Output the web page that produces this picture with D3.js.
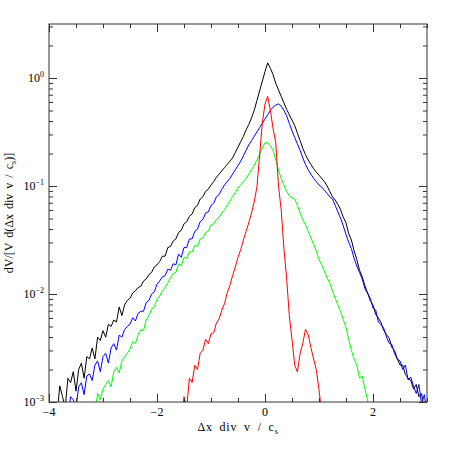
<!DOCTYPE html>
<html><head><meta charset="utf-8">
<script src="https://cdn.jsdelivr.net/npm/d3@7"></script>
<style>html,body{margin:0;padding:0;background:#fff;} svg{display:block;}</style>
</head><body>
<svg id="chart" width="450" height="450"></svg>
<script>
// ---- data (histogram bins, bin width 0.05) ----
const binStep = 0.05;
const seriesNames = ["black", "blue", "green", "red"];
const seriesColors = ["#000000", "#0000ff", "#00ff00", "#ff0000"];
const seriesStarts = [-3.85, -3.65, -3.15, -1.55];

const blackValues = [
  7.9e-4,1.41e-3,1.12e-3,8.9e-4,1.66e-3,1.51e-3,1.91e-3,1.26e-3,2.00e-3,2.29e-3,
  1.66e-3,2.63e-3,2.51e-3,3.16e-3,2.51e-3,3.98e-3,3.72e-3,4.57e-3,3.98e-3,5.25e-3,
  5.01e-3,5.75e-3,5.50e-3,7.59e-3,6.31e-3,7.94e-3,8.71e-3,9.12e-3,1.023e-2,1.072e-2,
  1.148e-2,1.175e-2,1.318e-2,1.380e-2,1.514e-2,1.585e-2,1.778e-2,1.862e-2,1.995e-2,2.239e-2,
  2.239e-2,2.692e-2,2.754e-2,3.090e-2,3.236e-2,3.715e-2,3.890e-2,4.467e-2,4.677e-2,5.248e-2,
  5.495e-2,6.310e-2,6.607e-2,7.586e-2,7.943e-2,8.913e-2,9.333e-2,0.1023,0.1096,0.1202,
  0.1288,0.1380,0.1479,0.1585,0.1698,0.1820,0.2042,0.2291,0.2570,0.2884,
  0.3311,0.3715,0.4266,0.5012,0.6166,0.7586,0.9333,1.148,1.380,1.230,
  1.072,0.8913,0.7762,0.6761,0.5888,0.5129,0.4571,0.4074,0.3631,0.3090,
  0.2630,0.2239,0.1950,0.1738,0.1585,0.1445,0.1349,0.1259,0.1175,0.1096,
  0.1000,0.0891,0.0794,0.0741,0.0676,0.0603,0.0513,0.0457,0.0363,0.0316,
  0.0251,0.0209,0.0166,0.0145,0.0120,0.0102,0.0087,0.0079,0.0065,0.0060,
  0.0054,0.0046,0.0042,0.0039,0.0032,0.0030,0.0025,0.0022,0.0022,0.0018,
  0.00166,0.00158,0.00132,0.00145,0.00112,0.0012,0.00079
];
const blueValues = [
  7.1e-4,1.12e-3,1.05e-3,8.9e-4,1.38e-3,1.51e-3,1.17e-3,1.74e-3,1.82e-3,1.58e-3,
  2.19e-3,2.40e-3,1.91e-3,2.63e-3,2.82e-3,2.29e-3,3.16e-3,3.47e-3,3.02e-3,4.17e-3,
  3.98e-3,4.68e-3,5.01e-3,5.25e-3,6.03e-3,5.62e-3,6.61e-3,6.92e-3,6.92e-3,8.32e-3,
  8.71e-3,1.00e-2,1.047e-2,1.230e-2,1.318e-2,1.445e-2,1.479e-2,1.698e-2,1.660e-2,1.905e-2,
  1.862e-2,2.344e-2,2.188e-2,2.692e-2,2.692e-2,3.236e-2,3.236e-2,3.802e-2,3.981e-2,4.677e-2,
  4.898e-2,5.623e-2,5.754e-2,6.607e-2,6.918e-2,7.943e-2,8.318e-2,9.333e-2,0.1023,0.1096,
  0.1175,0.1288,0.1413,0.1549,0.1698,0.1905,0.2138,0.2399,0.2630,0.2884,
  0.3162,0.3467,0.3802,0.4169,0.4571,0.5012,0.5370,0.5623,0.5754,0.5495,
  0.5012,0.4467,0.3802,0.3236,0.2818,0.2455,0.2138,0.1820,0.1585,0.1413,
  0.1288,0.1175,0.1096,0.1023,0.0977,0.0912,0.0851,0.0794,0.0759,0.0661,
  0.0575,0.0501,0.0427,0.0355,0.0302,0.0263,0.0214,0.0182,0.0158,0.0138,
  0.0112,0.0102,0.0091,0.0074,0.0071,0.0055,0.0052,0.0048,0.0040,0.0035,
  0.0034,0.0028,0.0025,0.0024,0.0020,0.0022,0.0016,0.0017,0.0014,0.0012,
  0.00145,0.00095,0.00117,0.00079
];
const greenValues = [
  7.9e-4,1.20e-3,1.05e-3,1.32e-3,1.45e-3,1.58e-3,1.38e-3,1.91e-3,2.09e-3,1.86e-3,
  2.40e-3,2.63e-3,2.82e-3,3.09e-3,3.63e-3,3.47e-3,4.17e-3,4.68e-3,4.57e-3,5.75e-3,
  6.31e-3,7.24e-3,7.59e-3,8.91e-3,9.55e-3,1.072e-2,1.148e-2,1.259e-2,1.413e-2,1.549e-2,
  1.585e-2,1.905e-2,1.820e-2,2.188e-2,2.138e-2,2.455e-2,2.455e-2,2.818e-2,2.754e-2,3.236e-2,
  3.311e-2,3.715e-2,3.802e-2,4.365e-2,4.467e-2,4.898e-2,5.129e-2,5.623e-2,6.026e-2,6.607e-2,
  7.244e-2,7.943e-2,8.710e-2,9.550e-2,0.1023,0.1096,0.1175,0.1288,0.1413,0.1549,
  0.1738,0.1950,0.2239,0.2512,0.2512,0.2344,0.2138,0.1738,0.1413,0.1175,
  0.1023,0.0891,0.0813,0.0776,0.0759,0.0661,0.0562,0.0490,0.0437,0.0380,
  0.0331,0.0288,0.0251,0.0209,0.0186,0.0162,0.0141,0.0126,0.0107,0.0091,
  0.0079,0.0069,0.0058,0.0049,0.0038,0.0030,0.0025,0.0022,0.00166,0.00174,
  0.00132,0.00105,0.00063
];
const redValues = [
  6.3e-4,1.12e-3,8.9e-4,1.66e-3,1.51e-3,2.19e-3,2.00e-3,2.82e-3,3.02e-3,3.80e-3,
  3.47e-3,4.27e-3,4.37e-3,5.37e-3,5.89e-3,7.08e-3,8.13e-3,1.023e-2,1.202e-2,1.479e-2,
  1.778e-2,2.188e-2,2.570e-2,3.162e-2,3.802e-2,4.571e-2,5.623e-2,7.079e-2,9.772e-2,0.1905,
  0.3802,0.5754,0.6761,0.5012,0.3388,0.2512,0.1000,0.0603,0.0263,0.0141,
  0.0063,0.0038,0.0022,0.0019,0.0028,0.0035,0.0047,0.0042,0.0032,0.0025,
  0.0020,0.0013,0.00079
];
const seriesValues = [blackValues, blueValues, greenValues, redValues];

// axes
const xDomain = [-4, 3];
const yDomain = [1e-3, 3.162];
const xTickLabels = [-4, -2, 0, 2];
const yTickExponents = [-3, -2, -1, 0];

// ---- layout ----
const L = 49, R = 427, T = 24, B = 402;
const svg = d3.select("#chart");
const x = d3.scaleLinear().domain(xDomain).range([L, R]);
const y = d3.scaleLog().domain(yDomain).range([B, T]);
const fontFam = "'Liberation Serif', 'DejaVu Serif', serif";

svg.append("defs").append("clipPath").attr("id", "clip")
  .append("rect").attr("x", L).attr("y", T).attr("width", R - L).attr("height", B - T);

// series
const line = d3.line().x(d => x(d[0])).y(d => y(d[1])).curve(d3.curveLinear);
const gLines = svg.append("g").attr("clip-path", "url(#clip)");
seriesValues.forEach((vals, k) => {
  const pts = vals.map((v, i) => [+(seriesStarts[k] + i * binStep).toFixed(3), v]);
  gLines.append("path").datum(pts)
    .attr("fill", "none").attr("stroke", seriesColors[k])
    .attr("stroke-width", 1).attr("stroke-linejoin", "round")
    .attr("d", line);
});

// ticks
const xMinor = x.ticks(14);
const xMajor = xMinor.filter(v => Math.abs(v % 2) < 1e-9);
const yAll = y.ticks();
const yMajor = yAll.filter(v => Math.abs(Math.log10(v) - Math.round(Math.log10(v))) < 1e-9);
const yMinor = yAll.filter(v => !yMajor.includes(v));

function axisGroup(axis, tx, ty) {
  const g = svg.append("g").attr("transform", `translate(${tx},${ty})`).call(axis);
  g.select(".domain").remove();
  g.selectAll("line").attr("stroke", "#333");
  return g;
}
const minorLen = 4, majorLen = 8;
axisGroup(d3.axisBottom(x).tickValues(xMinor).tickSize(-minorLen).tickFormat(""), 0, B);
axisGroup(d3.axisTop(x).tickValues(xMinor).tickSize(-minorLen).tickFormat(""), 0, T);
axisGroup(d3.axisBottom(x).tickValues(xMajor).tickSize(-majorLen).tickFormat(""), 0, B);
axisGroup(d3.axisTop(x).tickValues(xMajor).tickSize(-majorLen).tickFormat(""), 0, T);
axisGroup(d3.axisLeft(y).tickValues(yMinor).tickSize(-minorLen).tickFormat(""), L, 0);
axisGroup(d3.axisRight(y).tickValues(yMinor).tickSize(-minorLen).tickFormat(""), R, 0);
axisGroup(d3.axisLeft(y).tickValues(yMajor).tickSize(-majorLen).tickFormat(""), L, 0);
axisGroup(d3.axisRight(y).tickValues(yMajor).tickSize(-majorLen).tickFormat(""), R, 0);

// frame
svg.append("rect").attr("x", L).attr("y", T).attr("width", R - L).attr("height", B - T)
  .attr("fill", "none").attr("stroke", "#333").attr("stroke-width", 1);

// x tick labels
const fmt = d3.format("");
svg.append("g").selectAll("text").data(xTickLabels).join("text")
  .attr("x", d => x(d)).attr("y", 416)
  .attr("text-anchor", "middle").attr("font-family", fontFam).attr("font-size", 12)
  .attr("fill", "#000").text(d => fmt(d));

// y tick labels 10^n
const yl = svg.append("g").selectAll("text").data(yTickExponents).join("text")
  .attr("x", 44).attr("y", d => y(Math.pow(10, d)) + 4)
  .attr("text-anchor", "end").attr("font-family", fontFam).attr("font-size", 12).attr("fill", "#000");
yl.append("tspan").text("10");
yl.append("tspan").attr("dy", -5).attr("font-size", 8).text(d => fmt(d));

// axis titles
const xt = svg.append("text").attr("x", (L + R) / 2).attr("y", 431)
  .attr("text-anchor", "middle").attr("font-family", fontFam).attr("font-size", 12)
  .attr("letter-spacing", 0.8).attr("word-spacing", 3).attr("fill", "#000");
xt.append("tspan").text("Δx div v / c");
xt.append("tspan").attr("dy", 3).attr("font-size", 8).text("s");

const yt = svg.append("text").attr("transform", `translate(13,${(T + B) / 2}) rotate(-90)`)
  .attr("text-anchor", "middle").attr("font-family", fontFam).attr("font-size", 12)
  .attr("letter-spacing", 0).attr("word-spacing", 2).attr("fill", "#000");
yt.append("tspan").text("dV/[V d(Δx div v / c");
yt.append("tspan").attr("dy", 3).attr("font-size", 8).text("s");
yt.append("tspan").attr("dy", -3).text(")]");
</script>
</body></html>
